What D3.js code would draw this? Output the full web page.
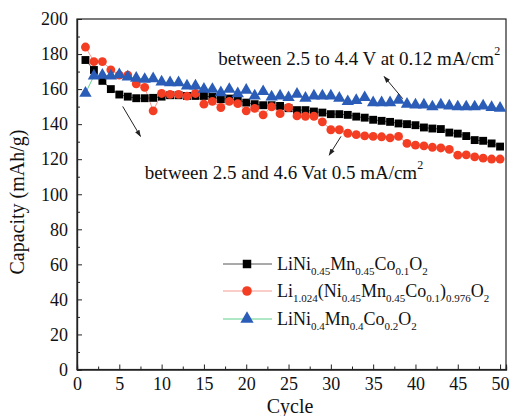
<!DOCTYPE html>
<html><head><meta charset="utf-8">
<script src="https://cdn.jsdelivr.net/npm/d3@7"></script>
<style>body{margin:0;background:#fff}svg{display:block}text{font-family:"Liberation Serif","Times New Roman",serif;fill:#111}</style>
</head><body><svg id="c" width="512" height="416"></svg>
<script>
const cycles = d3.range(1, 51);
const seriesNames = ["LiNi0.45Mn0.45Co0.1O2", "Li1.024(Ni0.45Mn0.45Co0.1)0.976O2", "LiNi0.4Mn0.4Co0.2O2"];
const blackVals = [176.6,170.9,164.7,160,156.9,155.7,154.8,154.8,155,155.7,156.5,156.5,156.1,156.1,156.1,155.5,154.2,154.6,153.7,152.3,151.4,150.8,150.8,150.4,149.1,148,148,147.2,146.6,145.7,145.7,145.3,144.3,143.7,142.5,141.9,141.3,140.4,140,139.4,138.1,137.5,137.2,135.2,134.6,133.2,130.9,130.5,129,127.2];
const redVals = [184,175.7,175.7,171,168,168,163,161,147.6,157.5,157,157,156,157.5,151.4,153,149.5,153,151.7,147.6,149,145.3,149.9,146,149.5,144.7,144.5,144.5,141.3,136.8,136.8,134.8,134,133.3,133,132.8,132.2,133,129,128,127.6,126.8,126.4,125.6,122.3,122.5,121.3,120.6,120.1,120.1];
const blueVals = [157.7,167.5,168,167.5,168.2,167,166.2,165.6,166,164.1,163.7,163.7,161.8,161.8,160,159.9,158,159.9,157.4,159.4,156.1,158.6,155.6,156.1,155.2,157.1,154.8,156.1,156.1,156.1,154.8,152.9,153.5,155.2,152.3,152.3,152.3,153.7,151.4,151,151,149.9,151,150.4,149.9,149.9,149.9,150.4,149.5,149.1];
const xTicks = d3.range(0, 51, 5);
const yTicks = d3.range(0, 201, 20);
const annot1 = "between 2.5 to 4.4 V at 0.12 mA/cm";
const annot2 = "between 2.5 and 4.6 Vat 0.5 mA/cm";

const svg = d3.select("#c");
const x = d3.scaleLinear().domain([0, 50.7]).range([77, 506]);
const y = d3.scaleLinear().domain([0, 200]).range([369.5, 19]);

// frame
svg.append("rect").attr("x", 77).attr("y", 19).attr("width", 429).attr("height", 350.5)
  .attr("fill", "none").attr("stroke", "#222").attr("stroke-width", 1.2);

// axes
svg.append("g").attr("transform", "translate(0,369.5)")
  .call(d3.axisBottom(x).tickValues(xTicks).tickSize(-5).tickPadding(8).tickFormat(d3.format("d")));
svg.append("g").attr("transform", "translate(0,369.5)")
  .call(d3.axisBottom(x).tickValues(d3.range(2.5, 50, 5)).tickSize(-3).tickFormat(""));
svg.append("g").attr("transform", "translate(77,0)")
  .call(d3.axisLeft(y).tickValues(yTicks).tickSize(-5).tickPadding(9));
svg.append("g").attr("transform", "translate(77,0)")
  .call(d3.axisLeft(y).tickValues(d3.range(10, 200, 20)).tickSize(-3).tickFormat(""));
svg.selectAll(".domain").attr("stroke", "#222").attr("stroke-width", 1.2);
svg.selectAll(".tick line").attr("stroke", "#222");
svg.selectAll(".tick text").style("font-family", "Liberation Serif").style("font-size", "18px").attr("fill", "#111");

svg.append("text").attr("x", 290).attr("y", 413).attr("text-anchor", "middle").style("font-size", "20px").text("Cycle");
svg.append("text").attr("transform", "translate(24,202) rotate(-90)").attr("text-anchor", "middle").style("font-size", "20px").text("Capacity (mAh/g)");

const series = [
  {vals: blackVals, line: "#555", fill: "#000", shape: d3.symbolSquare, size: 62},
  {vals: redVals, line: "#f29a90", fill: "#f43e24", shape: d3.symbolCircle, size: 62},
  {vals: blueVals, line: "#5fd08a", fill: "#2a5cb8", shape: d3.symbolTriangle, size: 66}
];
const line = d3.line().x((d, i) => x(cycles[i])).y(d => y(d));
series.forEach(s => {
  svg.append("path").datum(s.vals).attr("d", line).attr("fill", "none").attr("stroke", s.line).attr("stroke-width", 1);
});
series.forEach(s => {
  svg.append("g").selectAll("path").data(s.vals).join("path")
    .attr("transform", (d, i) => `translate(${x(cycles[i])},${y(d)})`)
    .attr("d", d3.symbol().type(s.shape).size(s.size)).attr("fill", s.fill);
});

// annotations
const defs = svg.append("defs");
defs.append("marker").attr("id", "ah").attr("viewBox", "0 0 10 10").attr("refX", 9).attr("refY", 5)
  .attr("markerWidth", 7).attr("markerHeight", 7).attr("orient", "auto")
  .append("path").attr("d", "M0,1.5 L10,5 L0,8.5 Z").attr("fill", "#222");
const arrows = [[38.5, 154.5, 36.3, 167.2], [5.4, 150.1, 7.5, 133], [31.2, 133, 29.8, 122.3]];
arrows.forEach(a => {
  svg.append("line").attr("x1", x(a[0])).attr("y1", y(a[1])).attr("x2", x(a[2])).attr("y2", y(a[3]))
    .attr("stroke", "#222").attr("stroke-width", 1).attr("marker-end", "url(#ah)");
});
const t1 = svg.append("text").attr("x", x(16.7)).attr("y", y(173.5)).style("font-size", "19px");
t1.append("tspan").text(annot1);
t1.append("tspan").attr("dy", -10).style("font-size", "12px").text("2");
const t2 = svg.append("text").attr("x", x(8.0)).attr("y", y(108.5)).style("font-size", "19px");
t2.append("tspan").text(annot2);
t2.append("tspan").attr("dy", -10).style("font-size", "12px").text("2");

// legend
const legParts = [
  [["LiNi", 0], ["0.45", 1], ["Mn", 0], ["0.45", 1], ["Co", 0], ["0.1", 1], ["O", 0], ["2", 1]],
  [["Li", 0], ["1.024", 1], ["(Ni", 0], ["0.45", 1], ["Mn", 0], ["0.45", 1], ["Co", 0], ["0.1", 1], [")", 0], ["0.976", 1], ["O", 0], ["2", 1]],
  [["LiNi", 0], ["0.4", 1], ["Mn", 0], ["0.4", 1], ["Co", 0], ["0.2", 1], ["O", 0], ["2", 1]]
];
const legY = [264, 291, 319];
series.forEach((s, k) => {
  const g = svg.append("g").attr("transform", `translate(0,${legY[k]})`);
  g.append("line").attr("x1", 223).attr("x2", 272).attr("stroke", s.line).attr("stroke-width", 1);
  g.append("path").attr("transform", "translate(247,0)").attr("d", d3.symbol().type(s.shape).size(s.size + 10)).attr("fill", s.fill);
  const t = g.append("text").attr("x", 277).attr("y", 6).style("font-size", "18px").attr("aria-label", seriesNames[k]);
  let prev = 0;
  legParts[k].forEach(p => {
    const dy = p[1] === prev ? 0 : (p[1] ? 5 : -5);
    prev = p[1];
    t.append("tspan").attr("dy", dy).style("font-size", p[1] ? "11px" : "18px").text(p[0]);
  });
});
</script></body></html>
